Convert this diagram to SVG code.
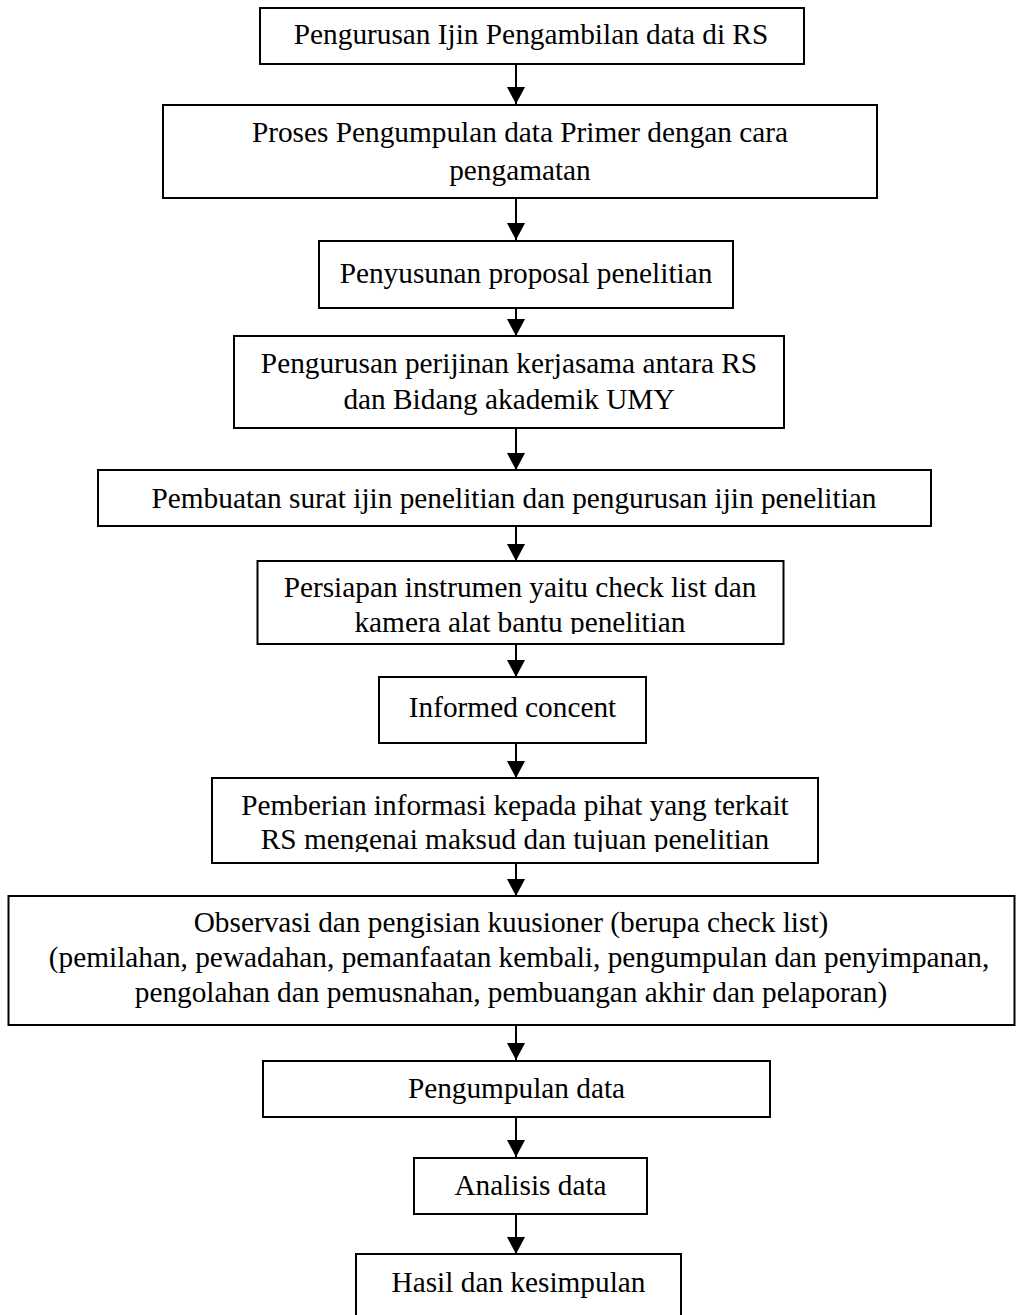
<svg xmlns="http://www.w3.org/2000/svg" width="1016" height="1315" viewBox="0 0 1016 1315">
<style>
  .box { fill: #ffffff; stroke: #000000; stroke-width: 2; }
  .t { font-family: "Liberation Serif", "Times New Roman", serif; font-size: 29.3px; fill: #000000; text-anchor: middle; }
  .edge { stroke: #000000; stroke-width: 2; fill: none; marker-end: url(#arrow); }
</style>
<defs>
  <marker id="arrow" markerUnits="userSpaceOnUse" markerWidth="18" markerHeight="18" refX="17" refY="9" orient="auto">
    <path d="M0,0 L17,9 L0,18 Z" fill="#000000"/>
  </marker>
  <clipPath id="clip6"><rect x="250" y="555" width="540" height="79"/></clipPath>
  <clipPath id="clip8"><rect x="205" y="772" width="620" height="80"/></clipPath>
</defs>
<rect width="1016" height="1315" fill="#ffffff"/>

<g id="connectors">
  <line class="edge" x1="516" y1="64" x2="516" y2="104"/>
  <line class="edge" x1="516" y1="198" x2="516" y2="240"/>
  <line class="edge" x1="516" y1="308" x2="516" y2="336"/>
  <line class="edge" x1="516" y1="428" x2="516" y2="470"/>
  <line class="edge" x1="516" y1="526" x2="516" y2="561"/>
  <line class="edge" x1="516" y1="644" x2="516" y2="677"/>
  <line class="edge" x1="516" y1="743" x2="516" y2="778"/>
  <line class="edge" x1="516" y1="863" x2="516" y2="896"/>
  <line class="edge" x1="516" y1="1025" x2="516" y2="1060"/>
  <line class="edge" x1="516" y1="1117" x2="516" y2="1157"/>
  <line class="edge" x1="516" y1="1214" x2="516" y2="1254"/>
</g>

<g id="n1">
  <rect class="box" x="260" y="8" width="544" height="56"/>
  <text class="t" x="531" y="44">Pengurusan Ijin Pengambilan data di RS</text>
</g>
<g id="n2">
  <rect class="box" x="163" y="105" width="714" height="93"/>
  <text class="t" x="520" y="142">Proses Pengumpulan data Primer dengan cara</text>
  <text class="t" x="520" y="180">pengamatan</text>
</g>
<g id="n3">
  <rect class="box" x="319" y="241" width="414" height="67"/>
  <text class="t" x="526" y="283">Penyusunan proposal penelitian</text>
</g>
<g id="n4">
  <rect class="box" x="234" y="336" width="550" height="92"/>
  <text class="t" x="509" y="373">Pengurusan perijinan kerjasama antara RS</text>
  <text class="t" x="509" y="409">dan Bidang akademik UMY</text>
</g>
<g id="n5">
  <rect class="box" x="98" y="470" width="833" height="56"/>
  <text class="t" x="514" y="508">Pembuatan surat ijin penelitian dan pengurusan ijin penelitian</text>
</g>
<g id="n6">
  <rect class="box" x="257.5" y="561" width="526" height="83"/>
  <g clip-path="url(#clip6)">
    <text class="t" x="520" y="597">Persiapan instrumen yaitu check list dan</text>
    <text class="t" x="520" y="632">kamera alat bantu penelitian</text>
  </g>
</g>
<g id="n7">
  <rect class="box" x="379" y="677" width="267" height="66"/>
  <text class="t" x="512.5" y="717">Informed concent</text>
</g>
<g id="n8">
  <rect class="box" x="212" y="778" width="606" height="85"/>
  <g clip-path="url(#clip8)">
    <text class="t" x="515" y="815">Pemberian informasi kepada pihat yang terkait</text>
    <text class="t" x="515" y="849">RS mengenai maksud dan tujuan penelitian</text>
  </g>
</g>
<g id="n9">
  <rect class="box" x="8.5" y="896" width="1006" height="129"/>
  <text class="t" x="511" y="932">Observasi dan pengisian kuusioner (berupa check list)</text>
  <text class="t" x="519" y="967">(pemilahan, pewadahan, pemanfaatan kembali, pengumpulan dan penyimpanan,</text>
  <text class="t" x="511" y="1002">pengolahan dan pemusnahan, pembuangan akhir dan pelaporan)</text>
</g>
<g id="n10">
  <rect class="box" x="263" y="1061" width="507" height="56"/>
  <text class="t" x="516.5" y="1098">Pengumpulan data</text>
</g>
<g id="n11">
  <rect class="box" x="414" y="1158" width="233" height="56"/>
  <text class="t" x="530.5" y="1195">Analisis data</text>
</g>
<g id="n12">
  <rect class="box" x="356" y="1254" width="325" height="80"/>
  <text class="t" x="518.5" y="1292">Hasil dan kesimpulan</text>
</g>
</svg>
